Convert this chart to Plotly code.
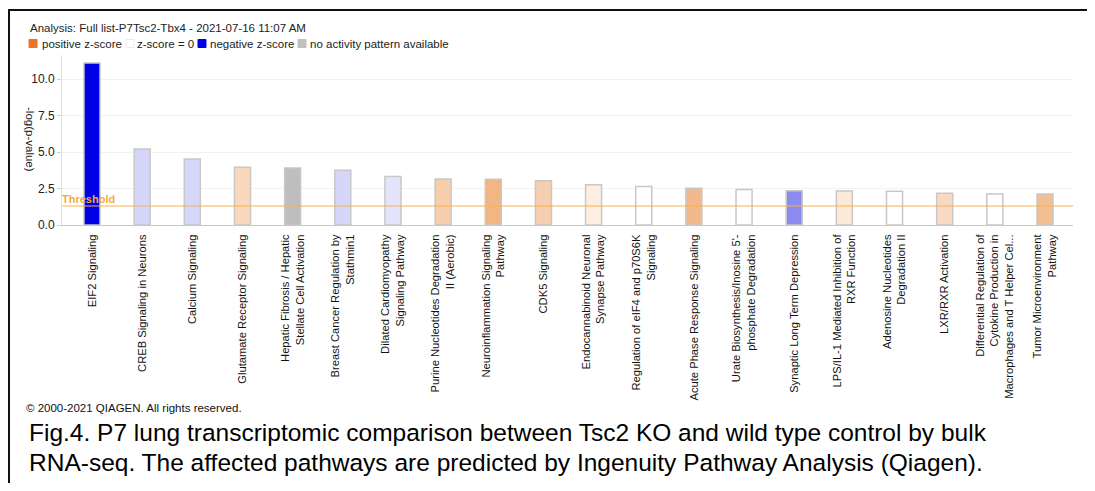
import plotly.graph_objects as go

pathways = [
    "EIF2 Signaling",
    "CREB Signaling in Neurons",
    "Calcium Signaling",
    "Glutamate Receptor Signaling",
    "Hepatic Fibrosis / Hepatic<br>Stellate Cell Activation",
    "Breast Cancer Regulation by<br>Stathmin1",
    "Dilated Cardiomyopathy<br>Signaling Pathway",
    "Purine Nucleotides Degradation<br>II (Aerobic)",
    "Neuroinflammation Signaling<br>Pathway",
    "CDK5 Signaling",
    "Endocannabinoid Neuronal<br>Synapse Pathway",
    "Regulation of eIF4 and p70S6K<br>Signaling",
    "Acute Phase Response Signaling",
    "Urate Biosynthesis/Inosine 5'-<br>phosphate Degradation",
    "Synaptic Long Term Depression",
    "LPS/IL-1 Mediated Inhibition of<br>RXR Function",
    "Adenosine Nucleotides<br>Degradation II",
    "LXR/RXR Activation",
    "Differential Regulation of<br>Cytokine Production in<br>Macrophages and T Helper Cel...",
    "Tumor Microenvironment<br>Pathway",
]
neg_log_p = [11.1, 5.2, 4.52, 3.95, 3.9, 3.75, 3.33, 3.15, 3.13, 3.03,
             2.76, 2.63, 2.51, 2.44, 2.35, 2.33, 2.31, 2.17, 2.12, 2.12]
bar_colors = [
    "rgb(0,0,230)", "rgb(214,214,250)", "rgb(214,214,248)", "rgb(250,216,188)",
    "rgb(190,190,190)", "rgb(214,214,248)", "rgb(228,228,250)", "rgb(247,206,172)",
    "rgb(242,182,132)", "rgb(247,206,174)", "rgb(252,238,224)", "rgb(255,255,255)",
    "rgb(242,186,140)", "rgb(255,255,255)", "rgb(140,140,240)", "rgb(252,233,216)",
    "rgb(255,255,255)", "rgb(248,218,196)", "rgb(255,255,255)", "rgb(242,190,146)",
]
threshold = 1.3
yticks = [0.0, 2.5, 5.0, 7.5, 10.0]
title_text = "Analysis: Full list-P7Tsc2-Tbx4 - 2021-07-16 11:07 AM"
legend_labels = ["positive z-score", "z-score = 0", "negative z-score", "no activity pattern available"]
legend_colors = ["rgb(236,116,36)", "rgb(255,255,255)", "rgb(0,0,230)", "rgb(192,192,192)"]
copyright_text = "© 2000-2021 QIAGEN. All rights reserved."
caption_lines = [
    "Fig.4. P7 lung transcriptomic comparison between Tsc2 KO and wild type control by bulk",
    "RNA-seq. The affected pathways are predicted by Ingenuity Pathway Analysis (Qiagen).",
]

OFF = 8  # page body margin
W, H = 1095 - OFF, 491 - 2 * OFF
# plot area in screen pixels
L, R, T, B = 62, 1073, 55, 225
pw, ph = R - L, B - T

def px(x):
    return (x - L) / pw

def py(y):
    return (B - y) / ph

FONT = "Liberation Sans, Arial, sans-serif"

fig = go.Figure()
fig.add_trace(go.Bar(
    x=pathways, y=neg_log_p,
    marker=dict(color=bar_colors, line=dict(color="rgb(200,200,200)", width=1.5)),
    width=0.32, showlegend=False, hoverinfo="x+y",
))

shapes = []
annotations = []

# threshold line
shapes.append(dict(type="line", xref="paper", yref="y", x0=0, x1=1, y0=threshold, y1=threshold,
                   line=dict(color="rgb(246,178,80)", width=1)))

# outer frame
frame = dict(color="#111", width=2)
for x0, x1, y0, y1 in [(9, 9, 10, 500), (8, 1093, 10, 10), (1092, 1092, 10, 500)]:
    shapes.append(dict(type="line", xref="paper", yref="paper", x0=px(x0), x1=px(x1),
                       y0=py(y0), y1=py(y1), line=frame))

# title
annotations.append(dict(text=title_text, xref="paper", yref="paper", x=px(28), y=py(28),
                        xanchor="left", yanchor="middle", showarrow=False,
                        font=dict(family=FONT, size=11.5, color="#222")))

# legend
sq_x = [29, 126, 198, 298]
txt_x = [40, 135, 208, 308]
for lab, col, sx, tx in zip(legend_labels, legend_colors, sq_x, txt_x):
    shapes.append(dict(type="rect", xref="paper", yref="paper", x0=px(sx), x1=px(sx + 8),
                       y0=py(47.5), y1=py(39.5), fillcolor=col,
                       line=dict(color="rgb(235,235,235)" if col == "rgb(255,255,255)" else col, width=1)))
    annotations.append(dict(text=lab, xref="paper", yref="paper", x=px(tx), y=py(43.5),
                            xanchor="left", yanchor="middle", showarrow=False,
                            font=dict(family=FONT, size=11.5, color="#222")))

# threshold label
annotations.append(dict(text="<b>Threshold</b>", xref="paper", yref="y", x=0, y=threshold,
                        xanchor="left", yanchor="bottom", showarrow=False, yshift=-1, xshift=-2,
                        font=dict(family=FONT, size=11, color="rgb(246,172,60)")))

# y axis title (rotated clockwise)
annotations.append(dict(text="-log(p-value)", xref="paper", yref="paper", x=px(30), y=py(139),
                        xanchor="center", yanchor="middle", showarrow=False, textangle=90,
                        font=dict(family=FONT, size=11.5, color="#222")))

# copyright
annotations.append(dict(text=copyright_text, xref="paper", yref="paper", x=px(24), y=py(408),
                        xanchor="left", yanchor="middle", showarrow=False,
                        font=dict(family=FONT, size=11.5, color="#111")))

# caption
for i, line in enumerate(caption_lines):
    annotations.append(dict(text=line, xref="paper", yref="paper", x=px(27), y=py(432 + 30 * i),
                            xanchor="left", yanchor="middle", showarrow=False,
                            font=dict(family=FONT, size=24.5, color="#000")))

# category axis range so that bar centres land at 92 px ... 1045 px
step = (1045 - 92) / (len(pathways) - 1)
x_range = [-(92 - L) / step, (len(pathways) - 1) + (R - 1045) / step]

fig.update_layout(
    width=W, height=H,
    margin=dict(l=L - OFF, r=W + OFF - R, t=T - OFF, b=H + OFF - B, pad=0, autoexpand=False),
    paper_bgcolor="white", plot_bgcolor="white",
    shapes=shapes, annotations=annotations,
    xaxis=dict(
        range=x_range,
        tickangle=-90, tickfont=dict(family=FONT, size=11.2, color="#111"),
        showline=True, linecolor="rgb(200,200,200)", linewidth=1,
        showgrid=False, ticks="", ticklabelstandoff=4, automargin=False,
    ),
    yaxis=dict(
        range=[0, ph / 14.6], tickvals=yticks, ticktext=[f"{v:.1f}" for v in yticks],
        tickfont=dict(family=FONT, size=12, color="#222"),
        showline=True, linecolor="rgb(225,225,225)", linewidth=1,
        showgrid=True, gridcolor="rgb(242,242,242)", gridwidth=1,
        ticks="outside", ticklen=4, tickcolor="rgb(210,210,210)",
        zeroline=False, fixedrange=True, automargin=False,
    ),
)

fig.write_html("out.html")
